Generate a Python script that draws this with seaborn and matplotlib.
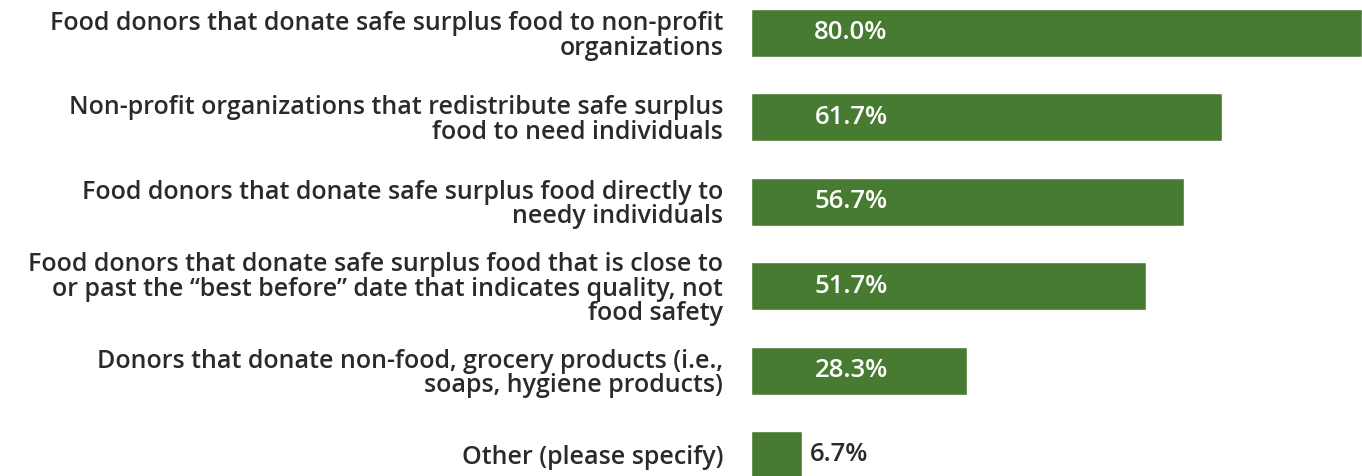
import pandas as pd
import seaborn as sns
from matplotlib import pyplot as plt

categories = [
    "Food donors that donate safe surplus food to non-profit\norganizations",
    "Non-profit organizations that redistribute safe surplus\nfood to need individuals",
    "Food donors that donate safe surplus food directly to\nneedy individuals",
    "Food donors that donate safe surplus food that is close to\nor past the \u201cbest before\u201d date that indicates quality, not\nfood safety",
    "Donors that donate non-food, grocery products (i.e.,\nsoaps, hygiene products)",
    "Other (please specify)",
]
values = [80.0, 61.7, 56.7, 51.7, 28.3, 6.7]
value_labels = ["80.0%", "61.7%", "56.7%", "51.7%", "28.3%", "6.7%"]

sns.set_style("white")
plt.rcParams["font.family"] = ["Open Sans", "DejaVu Sans"]

green = "#487b32"
dark = "#2a2a2a"

df = pd.DataFrame({"category": categories, "value": values})

fig = plt.figure(figsize=(13.62, 4.76), dpi=100)
ax = fig.add_axes([751 / 1362, 0, 611 / 1362, 1])

sns.barplot(ax=ax, data=df, x="value", y="category", orient="h",
            color=green, width=0.57, saturation=1)

ax.set_xlim(0, 80)
ax.set_ylim(5.249, -0.391)
ax.set_xlabel("")
ax.set_ylabel("")
ax.set_xticks([])
sns.despine(ax=ax, left=True, bottom=True)
ax.tick_params(axis="y", length=0, pad=20)
for lbl in ax.get_yticklabels():
    lbl.set_fontsize(18)
    lbl.set_fontweight("semibold")
    lbl.set_color(dark)
    lbl.set_linespacing(0.98)

for i, (v, txt) in enumerate(zip(values, value_labels)):
    if v > 15:
        ax.text(13.1, i, txt, ha="center", va="center", color="white",
                fontsize=18.5, fontweight="semibold")
    else:
        ax.text(v + 1.0, i, txt, ha="left", va="center", color=dark,
                fontsize=18.5, fontweight="semibold")

plt.savefig("out.png", dpi=100)
